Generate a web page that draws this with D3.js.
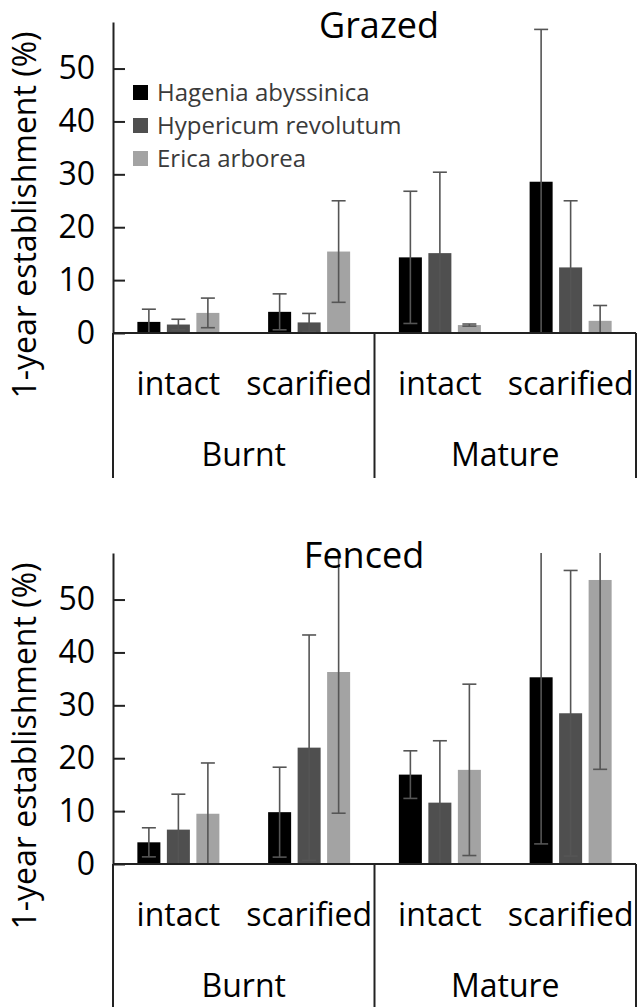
<!DOCTYPE html>
<html>
<head>
<meta charset="utf-8">
<script src="https://cdn.jsdelivr.net/npm/d3@7"></script>
<style>
  body { margin: 0; background: #fff; }
  svg { display: block; font-family: "Open Sans", sans-serif; }
</style>
</head>
<body>
<svg id="chart" width="640" height="1007"></svg>
<script>
// data (mean and +/- error, % 1-year establishment)
const species    = ["Hagenia abyssinica", "Hypericum revolutum", "Erica arborea"];
const treatments = ["intact", "scarified", "intact", "scarified"];
const sites      = ["Burnt", "Mature"];
const yTicks     = [0, 10, 20, 30, 40, 50];

const grazedMean = [[2.1, 1.6, 3.8], [4.0, 2.0, 15.4], [14.3, 15.1, 1.5], [28.6, 12.4, 2.3]];
const grazedErr  = [[2.4, 1.0, 2.8], [3.4, 1.7, 9.6],  [12.5, 15.3, 0.2], [28.8, 12.6, 2.9]];
const fencedMean = [[4.1, 6.5, 9.5], [9.8, 22.0, 36.3], [16.9, 11.6, 17.8], [35.3, 28.5, 53.7]];
const fencedErr  = [[2.75, 6.7, 9.6], [8.5, 21.3, 26.7], [4.5, 11.7, 16.2], [31.5, 27.0, 35.8]];

const colors = ["#000000", "#4f4f4f", "#a3a3a3"];
const yMax = 58.8;
const left = 113, right = 636;

const svg = d3.select("#chart");

const keys = treatments.map((t, i) => sites[Math.floor(i / 2)] + "-" + t);
const x0 = d3.scaleBand().domain(keys).range([left, right]);
const x1 = d3.scaleBand().domain(species)
  .range([0, x0.bandwidth()])
  .paddingInner(0.22)
  .paddingOuter(0.826);

function drawPanel({ zeroY, topY, title, titleX, titleY, means, errs, legend }) {
  const y = d3.scaleLinear().domain([0, yMax]).range([zeroY, topY]);
  const g = svg.append("g");

  // y axis, ticks pointing inward
  const ax = g.append("g")
    .attr("transform", `translate(${left},0)`)
    .call(d3.axisLeft(y).tickValues(yTicks).tickSizeInner(-12).tickSizeOuter(0).tickPadding(18));
  ax.select(".domain").attr("stroke", "#222").attr("stroke-width", 2);
  ax.selectAll(".tick line").attr("stroke", "#222").attr("stroke-width", 2);
  ax.selectAll(".tick text")
    .attr("fill", "#000")
    .style("font-size", "32px")
    .style("font-family", "Open Sans, sans-serif");

  // bars
  const rows = keys.map((k, i) => ({ key: k, vals: species.map((s, j) => ({ s, j, m: means[i][j], e: errs[i][j] })) }));
  const grp = g.selectAll("g.cat").data(rows).join("g")
    .attr("class", "cat")
    .attr("transform", d => `translate(${x0(d.key)},0)`);

  grp.selectAll("rect").data(d => d.vals).join("rect")
    .attr("x", d => x1(d.s))
    .attr("y", d => y(d.m))
    .attr("width", x1.bandwidth())
    .attr("height", d => y(0) - y(d.m))
    .attr("fill", d => colors[d.j]);

  // error bars, clipped to the axis range
  const eb = grp.selectAll("g.err").data(d => d.vals).join("g")
    .attr("class", "err")
    .attr("stroke", "#555")
    .attr("stroke-width", 1.6);
  const cx = d => x1(d.s) + x1.bandwidth() / 2;
  eb.append("line")
    .attr("x1", cx).attr("x2", cx)
    .attr("y1", d => y(Math.max(0, d.m - d.e)))
    .attr("y2", d => y(Math.min(yMax, d.m + d.e)));
  eb.filter(d => d.m + d.e <= yMax).append("line")
    .attr("x1", d => cx(d) - 7).attr("x2", d => cx(d) + 7)
    .attr("y1", d => y(d.m + d.e)).attr("y2", d => y(d.m + d.e));
  eb.filter(d => d.m - d.e > 0.3).append("line")
    .attr("x1", d => cx(d) - 7).attr("x2", d => cx(d) + 7)
    .attr("y1", d => y(d.m - d.e)).attr("y2", d => y(d.m - d.e));

  // baseline and group separators
  g.append("line")
    .attr("x1", left).attr("x2", right)
    .attr("y1", zeroY).attr("y2", zeroY)
    .attr("stroke", "#222").attr("stroke-width", 2);
  [left, x0(keys[2]), right].forEach(xx => {
    g.append("line")
      .attr("x1", xx).attr("x2", xx)
      .attr("y1", zeroY).attr("y2", zeroY + 145)
      .attr("stroke", "#222").attr("stroke-width", 2);
  });

  // category labels
  g.selectAll("text.treat").data(keys).join("text")
    .attr("class", "treat")
    .attr("x", d => x0(d) + x0.bandwidth() / 2)
    .attr("y", zeroY + 62)
    .attr("text-anchor", "middle")
    .style("font-size", "32px")
    .text((d, i) => treatments[i]);
  g.selectAll("text.site").data(sites).join("text")
    .attr("class", "site")
    .attr("x", (d, i) => x0(keys[i * 2]) + x0.bandwidth())
    .attr("y", zeroY + 133)
    .attr("text-anchor", "middle")
    .style("font-size", "32px")
    .text(d => d);

  // y label
  g.append("text")
    .attr("transform", `translate(36,${zeroY - 118}) rotate(-90)`)
    .attr("text-anchor", "middle")
    .style("font-size", "32px")
    .text("1-year establishment (%)");

  // title
  g.append("text")
    .attr("x", titleX).attr("y", titleY)
    .attr("text-anchor", "middle")
    .style("font-size", "36px")
    .text(title);

  if (legend) {
    const lg = g.append("g").attr("transform", "translate(133,93)");
    const item = lg.selectAll("g").data(species).join("g")
      .attr("transform", (d, i) => `translate(0,${i * 33})`);
    item.append("rect")
      .attr("x", 0).attr("y", -8)
      .attr("width", 15).attr("height", 15)
      .attr("fill", (d, i) => colors[i]);
    item.append("text")
      .attr("x", 24).attr("y", 8)
      .attr("fill", "#3a3a3a")
      .style("font-size", "24px")
      .text(d => d);
  }
}

drawPanel({ zeroY: 333, topY: 22, title: "Grazed", titleX: 379, titleY: 38,
  means: grazedMean, errs: grazedErr, legend: true });
drawPanel({ zeroY: 864, topY: 553, title: "Fenced", titleX: 364, titleY: 568,
  means: fencedMean, errs: fencedErr, legend: false });
</script>
</body>
</html>
